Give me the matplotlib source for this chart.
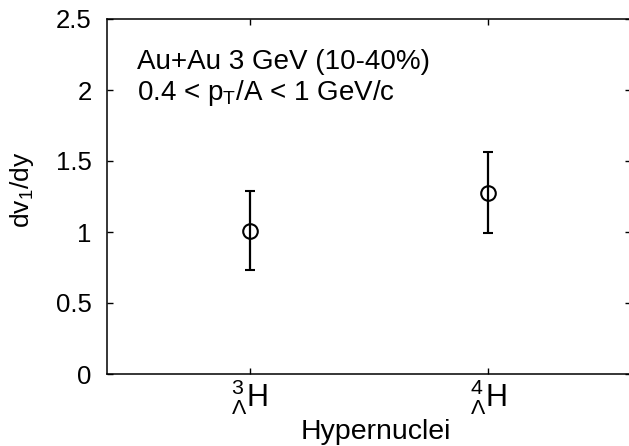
import matplotlib
matplotlib.use("Agg")
import matplotlib.pyplot as plt

plt.rcParams['font.family'] = ['Liberation Sans', 'DejaVu Sans']
plt.rcParams['mathtext.fontset'] = 'custom'
plt.rcParams['mathtext.rm'] = 'Liberation Sans'
plt.rcParams['mathtext.it'] = 'Liberation Sans'
plt.rcParams['mathtext.bf'] = 'Liberation Sans:bold'

# Data
categories = [r"${}^{3}_{\Lambda}\mathrm{H}$", r"${}^{4}_{\Lambda}\mathrm{H}$"]
x_pos = [1, 2]
dv1dy = [1.01, 1.275]
dv1dy_err = [0.28, 0.285]
y_ticks = [0, 0.5, 1, 1.5, 2, 2.5]
y_ticklabels = ["0", "0.5", "1", "1.5", "2", "2.5"]

W, H = 629, 446
fig = plt.figure(figsize=(W / 100, H / 100), dpi=100)
ax = fig.add_axes([107 / W, (H - 374) / H, (631 - 107) / W, (374 - 19) / H])

ax.errorbar(x_pos, dv1dy, yerr=dv1dy_err, fmt='o', mfc='none', mec='black',
            ms=10.5, mew=1.5, ecolor='black', elinewidth=1.6, capsize=3.5, capthick=1.6)

ax.set_xlim(0.4, 2.6)
ax.set_ylim(0, 2.5)
ax.set_yticks(y_ticks)
ax.set_yticklabels(y_ticklabels, fontsize=18.5)
ax.set_xticks(x_pos)
ax.set_xticklabels(categories, fontsize=22)
ax.tick_params(axis='both', direction='in', length=4.5, width=1.0, colors='black',
               top=True, right=True)
ax.tick_params(axis='y', pad=11)
ax.tick_params(axis='x', pad=2)
for s in ['left', 'bottom', 'top', 'right']:
    ax.spines[s].set_linewidth(1.1)

ax.set_ylabel(r"dv$_1$/dy", fontsize=19)
ax.yaxis.set_label_coords(-0.135, 0.52)
ax.set_xlabel("Hypernuclei", fontsize=20.5)
ax.xaxis.set_label_coords(0.513, -0.127)

ax.text(137 / W, 1 - 69 / H, "Au+Au 3 GeV (10-40%)", transform=fig.transFigure,
        fontsize=20, ha='left', va='baseline')
ax.text(137 / W, 1 - 100 / H, r"0.4 < p$_\mathrm{T}$/A < 1 GeV/c", transform=fig.transFigure,
        fontsize=20, ha='left', va='baseline')

fig.savefig("out.png", dpi=100)
